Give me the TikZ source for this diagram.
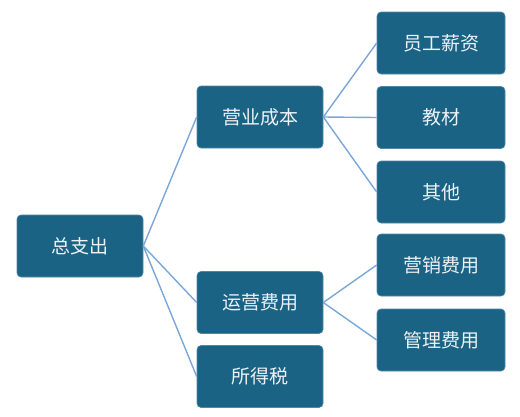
\documentclass[tikz,border=0pt]{standalone}
\usepackage{fontspec}
\newfontfamily\cjk{Noto Sans CJK SC}
\definecolor{boxblue}{HTML}{1B6385}
\definecolor{boxedge}{HTML}{4F88A8}
\definecolor{linkblue}{HTML}{7AA7D7}
\definecolor{boxtext}{HTML}{EEF2F5}
\begin{document}
\begin{tikzpicture}[
    x=1pt, y=-1pt,
    box/.style={draw=boxedge, line width=0.6pt, fill=boxblue,
                rounded corners=4pt, minimum width=126pt,
                minimum height=62pt, inner sep=0pt,
                font=\cjk\fontsize{19}{21}\selectfont,
                text=boxtext},
    leaf/.style={box, minimum width=128pt},
    link/.style={draw=linkblue, line width=1.4pt},
]
\useasboundingbox (0,0) rectangle (520,416);

% --- Blocks ---
\node[box]  (root)   at (80, 246)    {总支出};
\node[box]  (cost)   at (260, 117)   {营业成本};
\node[box]  (opex)   at (260, 302.5) {运营费用};
\node[box]  (tax)    at (260, 376.5) {所得税};
\node[leaf] (salary) at (441, 43)    {员工薪资};
\node[leaf] (books)  at (441, 117.5) {教材};
\node[leaf] (other)  at (441, 192)   {其他};
\node[leaf] (sales)  at (441, 265)   {营销费用};
\node[leaf] (admin)  at (441, 340)   {管理费用};

% --- Links ---
\foreach \kid in {cost, opex, tax}
    \draw[link] (root.east) -- (\kid.west);
\foreach \kid in {salary, books, other}
    \draw[link] (cost.east) -- (\kid.west);
\foreach \kid in {sales, admin}
    \draw[link] (opex.east) -- (\kid.west);

\end{tikzpicture}
\end{document}
